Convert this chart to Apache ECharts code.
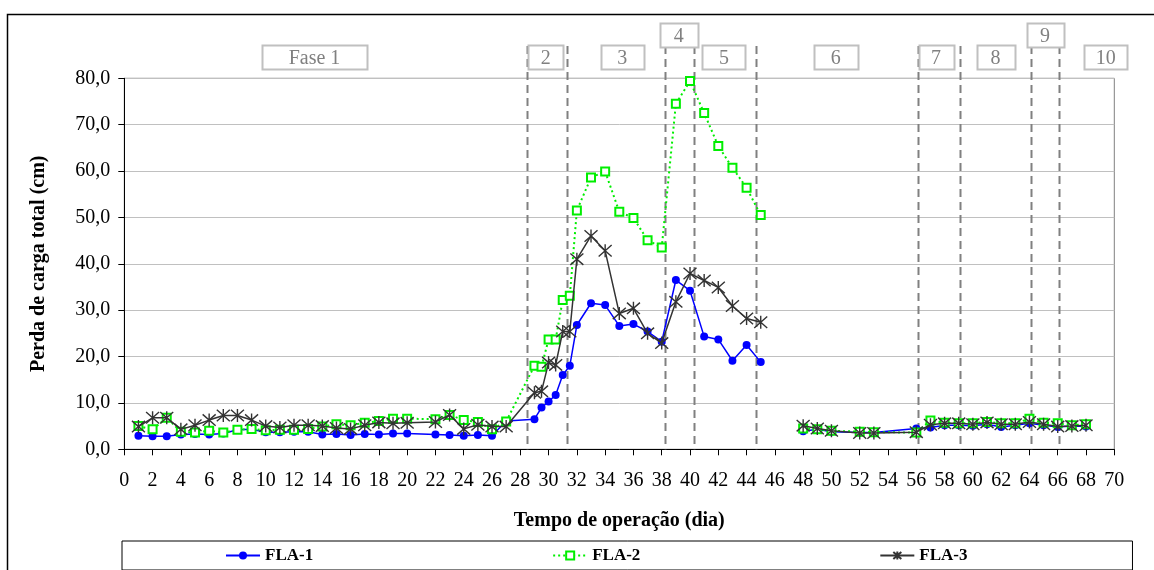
<!DOCTYPE html>
<html><head><meta charset="utf-8">
<script src="https://cdn.jsdelivr.net/npm/echarts@6/dist/echarts.min.js"></script>
<style>html,body{margin:0;padding:0;background:#fff}#c{width:1154px;height:570px}</style>
</head><body><div id="c"></div>
<script>
// ---- data ----
const days = [1,2,3,4,5,6,7,8,9,10,11,12,13,14,15,16,17,18,19,20,22,23,24,25,26,27,29,29.5,30,30.5,31,31.5,32,33,34,35,36,37,38,39,40,41,42,43,44,45,46.5,48,49,50,52,53,56,57,58,59,60,61,62,63,64,65,66,67,68];
const fla1 = [2.9,2.8,2.8,3.2,3.3,3.2,3.4,4.2,4.3,3.7, 3.7,3.8,3.8,3.2,3.3,3.1,3.3,3.2,3.4,3.4, 3.2,3.1,2.9,3.1,2.9,6.1, 6.5,9.0,10.3,11.7,16.0,18.0, 26.8,31.5,31.1,26.6,27.0,25.4,23.2,36.5,34.2,24.3,23.7,19.1,22.5,18.8, null, 3.9,4.3,3.8,3.6,3.6, 4.5,4.7,5.2,5.2,5.1,5.4,4.8,5.2,5.6,5.2,4.8,5.0,4.9];
const fla2 = [5.0,4.3,6.8,3.8,3.6,4.0,3.6,4.2,4.4,4.1, 4.2,4.2,4.4,4.9,5.4,5.2,5.7,6.1,6.6,6.6, 6.5,7.4,6.3,5.9,4.3,6.0, 18.0,17.8,23.7,23.7,32.2,33.1, 51.5,58.6,59.9,51.2,49.9,45.1,43.5,74.5,79.4,72.5,65.4,60.7,56.4,50.5, null, 4.5,4.3,4.0,3.8,3.7, 3.6,6.2,5.7,5.6,5.6,5.9,5.6,5.6,6.6,5.7,5.6,5.2,5.4];
const fla3 = [4.9,6.8,6.8,4.3,5.2,6.3,7.3,7.3,6.3,5.0, 4.7,5.2,5.2,5.0,4.6,4.4,5.2,5.8,5.6,5.7, 5.9,7.4,4.4,5.3,4.9,4.9, 12.2,12.5,18.7,18.2,25.4,25.4, 41.0,46.0,42.8,29.3,30.4,25.0,22.9,31.8,37.9,36.4,34.9,30.9,28.2,27.4, null, 5.1,4.5,4.0,3.5,3.5, 3.7,5.3,5.6,5.6,5.4,5.8,5.4,5.4,5.9,5.4,4.9,5.0,5.2];
const seriesNames = ['FLA-1','FLA-2','FLA-3'];
const phaseLabels = ['Fase 1','2','3','4','5','6','7','8','9','10'];
const phaseCenters = [13.45, 29.8, 35.2, 39.2, 42.4, 50.3, 57.4, 61.6, 65.1, 69.4];
const phaseBounds = [28.5, 31.3, 38.2, 40.3, 44.7, 56.1, 59.1, 64.1, 66.1];
const xTitle = 'Tempo de operação (dia)';
const yTitle = 'Perda de carga total (cm)';

// ---- layout / style ----
const FONT = '"Liberation Serif","Times New Roman",serif';
const boxW = [105, 35, 43, 38, 43, 44, 35, 38, 37, 43];
const raisedIdx = [3, 8];
const toPairs = arr => days.map((d, i) => [d, arr[i] === null ? '-' : arr[i]]);
const starPath = 'path://M5,0L5,10M0.6,0.6L9.4,9.4M0.6,9.4L9.4,0.6';

const chart = echarts.init(document.getElementById('c'), null, {renderer: 'canvas'});
const option = {
  animation: false,
  backgroundColor: '#fff',
  grid: {left: 124.3, right: 39.7, top: 78.3, bottom: 120.7, show: true, borderColor: '#808080', borderWidth: 1, backgroundColor: 'transparent'},
  xAxis: {
    type: 'value', min: 0, max: 70, interval: 2,
    name: xTitle, nameLocation: 'middle', nameGap: 62,
    nameTextStyle: {fontFamily: FONT, fontWeight: 'bold', fontSize: 20, color: '#000'},
    axisLine: {lineStyle: {color: '#000', width: 1}},
    axisTick: {show: true, length: 6, lineStyle: {color: '#000'}},
    axisLabel: {fontFamily: FONT, fontSize: 20, color: '#000', margin: 21},
    splitLine: {show: false}
  },
  yAxis: {
    type: 'value', min: 0, max: 80, interval: 10,
    name: yTitle, nameLocation: 'middle', nameGap: 75, nameRotate: 90,
    nameTextStyle: {fontFamily: FONT, fontWeight: 'bold', fontSize: 20, color: '#000'},
    axisLine: {show: true, lineStyle: {color: '#000', width: 1}},
    axisTick: {show: true, length: 6, lineStyle: {color: '#000'}},
    axisLabel: {fontFamily: FONT, fontSize: 20, color: '#000', margin: 14, formatter: v => v.toFixed(1).replace('.', ',')},
    splitLine: {show: true, lineStyle: {color: '#c0c0c0', width: 1}}
  },
  legend: {
    left: 122, top: 541,
    padding: [6, 165, 6, 103],
    itemGap: 239, itemWidth: 34, itemHeight: 10,
    borderColor: '#000', borderWidth: 1,
    textStyle: {fontFamily: FONT, fontWeight: 'bold', fontSize: 17, color: '#000'},
    data: seriesNames
  },
  series: [
    {name: seriesNames[0], type: 'line', data: toPairs(fla1), symbol: 'circle', symbolSize: 8,
     lineStyle: {color: '#0000ff', width: 1.5}, itemStyle: {color: '#0000ff'}, z: 2},
    {name: seriesNames[1], type: 'line', data: toPairs(fla2), symbol: 'emptyRect', symbolSize: 8,
     lineStyle: {color: '#00ee00', width: 2, type: [2, 3]}, itemStyle: {color: '#00ee00', borderColor: '#00ee00', borderWidth: 1.5}, z: 3},
    {name: seriesNames[2], type: 'line', data: toPairs(fla3), symbol: starPath, symbolSize: 13,
     lineStyle: {color: '#333333', width: 1.5}, itemStyle: {color: 'none', borderColor: '#333333', borderWidth: 1.4}, z: 4}
  ]
};
chart.setOption(option);

const yBot = chart.convertToPixel({yAxisIndex: 0}, 0);
const g = [];
g.push({type: 'rect', silent: true, z: 0, shape: {x: 7.5, y: 14.5, width: 1400, height: 800}, style: {fill: 'none', stroke: '#000', lineWidth: 1.5}});
phaseBounds.forEach(d => {
  const x = Math.round(chart.convertToPixel({xAxisIndex: 0}, d)) + 0.5;
  g.push({type: 'line', silent: true, z: 1, shape: {x1: x, y1: 46, x2: x, y2: yBot}, style: {stroke: '#808080', lineWidth: 2, lineDash: [8, 5]}});
});
phaseLabels.forEach((t, i) => {
  const cx = chart.convertToPixel({xAxisIndex: 0}, phaseCenters[i]);
  const w = boxW[i];
  const top = raisedIdx.includes(i) ? 23.5 : 45.5;
  g.push({type: 'rect', silent: true, z: 5, shape: {x: Math.round(cx - w / 2) + 0.5, y: top, width: w, height: 24}, style: {fill: '#fff', stroke: '#c0c0c0', lineWidth: 2}});
  g.push({type: 'text', silent: true, z: 6, x: cx, y: top + 13, style: {text: t, fill: '#808080', font: '20px ' + FONT, align: 'center', verticalAlign: 'middle'}});
});
chart.setOption({graphic: g});
</script>
</body></html>
